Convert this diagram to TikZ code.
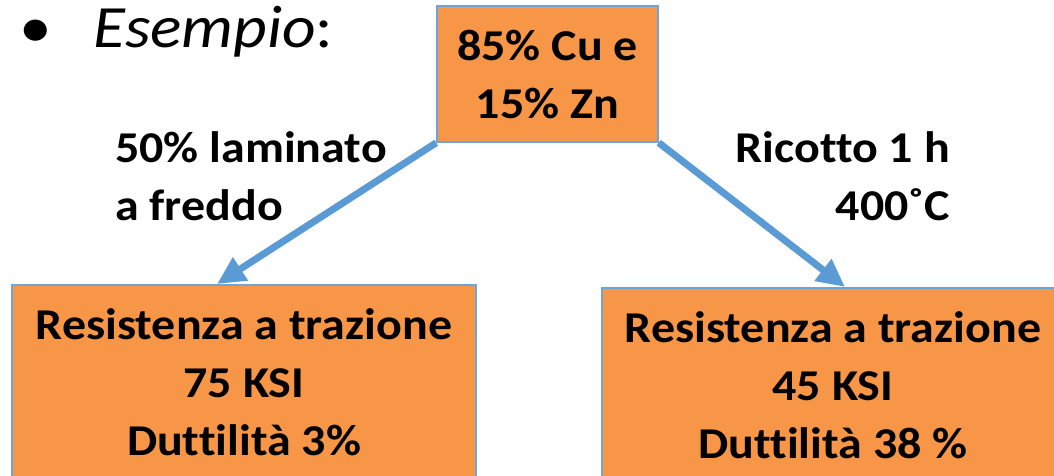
\documentclass[tikz,border=0pt]{standalone}
\usepackage{fontspec}
\setmainfont{Carlito}[FakeStretch=1.09, Ligatures=NoCommon]
\usepackage{tikz}
\usetikzlibrary{arrows.meta,positioning,calc}
\definecolor{boxorange}{RGB}{247,150,70}
\definecolor{arrowblue}{RGB}{91,155,213}
\definecolor{edgeblue}{RGB}{110,165,215}

\begin{document}
\begin{tikzpicture}[
  x=1pt, y=-1pt,
  bigfont/.style={font=\fontsize{44}{58}\selectfont\bfseries},
  alloybox/.style={rectangle, draw=edgeblue, fill=boxorange, line width=1.5pt,
                   align=center, inner sep=0pt, bigfont},
  flow/.style={draw=arrowblue, line width=7pt,
               -{Triangle[length=28pt,width=26pt]}},
  steplabel/.style={bigfont, inner sep=0pt},
]
\useasboundingbox (0,0) rectangle (1054,476);

%-- heading
\node[font=\fontsize{60}{66}\selectfont, anchor=base west, inner sep=0pt]
  (bullet) at (19,48) {•};
\node[font=\fontsize{60}{66}\selectfont, anchor=base west, inner sep=0pt]
  (title) at (93,48) {\textit{Esempio}:};

%-- starting alloy
\node[alloybox, minimum width=221, minimum height=136] (alloy) at (547.5,74)
  {85\% Cu e\\15\% Zn};

%-- results
\node[alloybox, minimum width=464, minimum height=194, anchor=north]
  (cold) at (244,284) {Resistenza a trazione\\75 KSI\\Duttilità 3\%};
\node[alloybox, minimum width=462, minimum height=194, anchor=north]
  (anneal) at (833,287) {Resistenza a trazione\\45 KSI\\Duttilità 38 \%};

%-- treatments
\draw[flow] (alloy.south west) -- ($(cold.north west)!0.442!(cold.north east)$);
\draw[flow] (alloy.south east) -- ($(anneal.north west)!0.526!(anneal.north east)$);

\node[steplabel, align=left, anchor=base west] (coldlabel) at (115,220)
  {50\% laminato\\a freddo};
\node[steplabel, align=right, anchor=base east] (anneallabel) at (950,220)
  {Ricotto 1 h\\400˚C};

\end{tikzpicture}
\end{document}
